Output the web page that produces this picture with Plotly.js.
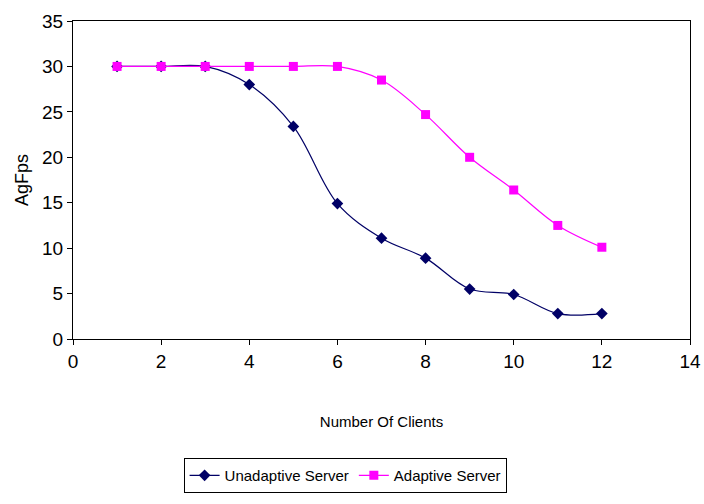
<!DOCTYPE html>
<html>
<head>
<meta charset="utf-8">
<script src="https://cdn.plot.ly/plotly-3.0.1.min.js"></script>
<style>html,body{margin:0;padding:0;background:#fff;}#chart{width:704px;height:504px;}</style>
</head>
<body>
<div id="chart"></div>
<script>
var clients = [1, 2, 3, 4, 5, 6, 7, 8, 9, 10, 11, 12];
var unadaptiveFps = [30, 30, 30, 28, 23.4, 14.9, 11.1, 8.9, 5.5, 4.9, 2.8, 2.8];
var adaptiveFps = [30, 30, 30, 30, 30, 30, 28.5, 24.7, 20, 16.4, 12.5, 10.1];
var xTicks = [0, 2, 4, 6, 8, 10, 12, 14];
var yTicks = [0, 5, 10, 15, 20, 25, 30, 35];

var traces = [
  {
    x: clients, y: unadaptiveFps, name: 'Unadaptive Server',
    type: 'scatter', mode: 'lines+markers',
    line: {color: '#000066', width: 1.2, shape: 'spline', smoothing: 1},
    marker: {symbol: 'diamond', size: 9, color: '#000066'}
  },
  {
    x: clients, y: adaptiveFps, name: 'Adaptive Server',
    type: 'scatter', mode: 'lines+markers',
    line: {color: '#ff00ff', width: 1.2, shape: 'spline', smoothing: 1},
    marker: {symbol: 'square', size: 9, color: '#ff00ff'}
  }
];

var fam = 'Liberation Sans, Arial, sans-serif';
var layout = {
  width: 704, height: 504,
  margin: {l: 73, r: 14, t: 21, b: 164},
  paper_bgcolor: '#fff', plot_bgcolor: '#fff',
  showlegend: true,
  xaxis: {
    range: [0, 14], tickvals: xTicks, ticktext: xTicks.map(String),
    showgrid: false, zeroline: false,
    showline: true, linecolor: '#000', linewidth: 1, mirror: true,
    ticks: 'outside', ticklen: 5, tickcolor: '#000',
    tickfont: {family: fam, size: 19, color: '#000'},
    title: {text: 'Number Of Clients', font: {family: fam, size: 15, color: '#000'}, standoff: 45}
  },
  yaxis: {
    range: [0, 35], tickvals: yTicks, ticktext: yTicks.map(String),
    showgrid: false, zeroline: false,
    showline: true, linecolor: '#000', linewidth: 1, mirror: true,
    ticks: 'outside', ticklen: 5, tickcolor: '#000',
    tickfont: {family: fam, size: 19, color: '#000'},
    title: {text: 'AgFps', font: {family: fam, size: 18, color: '#000'}, standoff: 8}
  },
  legend: {
    orientation: 'h', x: 0.441, xanchor: 'center', y: -0.37, yanchor: 'top',
    bordercolor: '#000', borderwidth: 1, bgcolor: '#fff',
    font: {family: fam, size: 15, color: '#000'},
    itemwidth: 30
  }
};
Plotly.newPlot('chart', traces, layout, {displayModeBar: false, staticPlot: true});
</script>
</body>
</html>
